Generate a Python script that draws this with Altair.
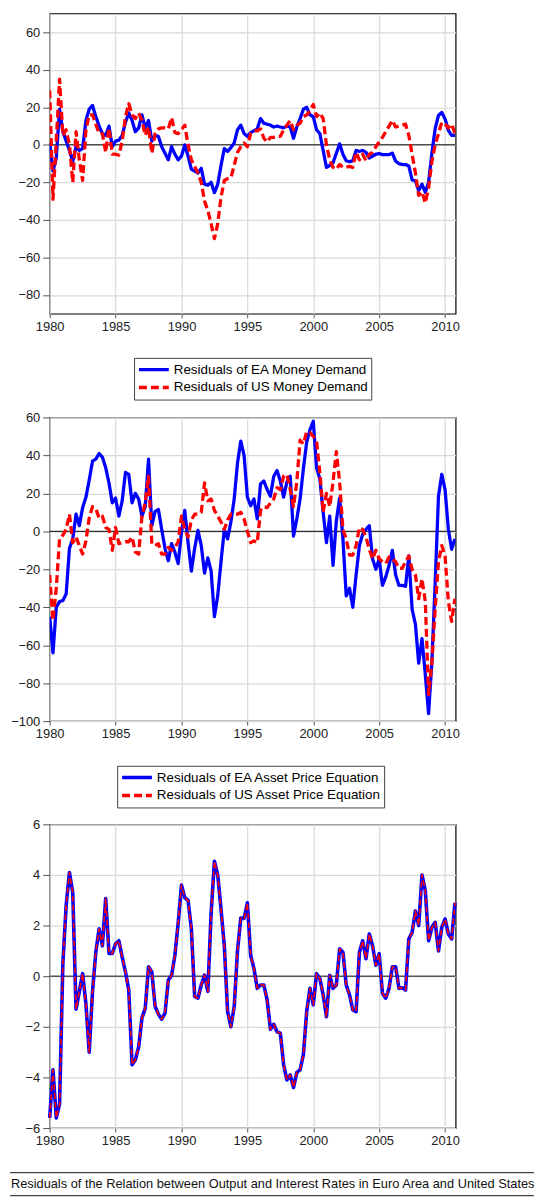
import altair as alt
import pandas as pd

# quarterly observations 1980Q1 .. 2010Q4
dates = [1980 + q / 4 for q in range(124)]
year_ticks = [1980, 1985, 1990, 1995, 2000, 2005, 2010]

ea_money_name = "Residuals of EA Money Demand"
us_money_name = "Residuals of US Money Demand"
ea_asset_name = "Residuals of EA Asset Price Equation"
us_asset_name = "Residuals of US Asset Price Equation"
output_name = "Residuals of the Relation between Output and Interest Rates in Euro Area and United States"

ea_money = [
    1, -14, -7, 19, 7, 2, -3, -9,
    -1, -3, -2, 13, 19, 21, 15, 10,
    6, 5, 10, -1, 2, 2.5, 5, 12,
    17, 13, 7, 9, 16, 9, 13, 2,
    5, 4.5, -1, -4.5, -8, -1, -5, -8,
    -6, 0, -6, -13, -14, -15, -12.5, -21,
    -21.5, -20, -25.5, -21, -11, -2, -3.5, -1.5,
    1, 8, 10.5, 6, 4.5, 6.5, 7.5, 8.5,
    14, 11.5, 11, 10.5, 9.5, 10, 9.5, 9,
    10, 9.5, 3.5, 9.5, 14, 19, 20, 16,
    15, 8, 6, -3, -12, -11, -9.5, -4.5,
    0.5, -5, -8.5, -9, -8.5, -3, -3.5, -3,
    -4, -7, -6, -5, -4.7, -5.2, -5.2, -5.2,
    -4.4, -8.7, -10, -10.5, -10.5, -11.3, -18.7, -19.2,
    -24.4, -21, -25.3, -20, -4.4, 8.7, 15.7, 17.3,
    13.8, 7.7, 5, 5,
]
us_money = [
    29, -29, 2, 35, 5, 8, 0, -20,
    7, -8, -19, 8, 16, 16, 11, 6,
    6, -4, 9, -5, -5, -5.5, 2, 15,
    22, 16, 14, 17, 13, 5, 9.5, -4.5,
    6, 8.5, 9, 9, 8.5, 14.5, 6.5, 6,
    8, 10.5, 0, -8, -11.5, -15, -20, -30,
    -35, -42, -50, -42, -28, -19, -18, -17.5,
    -11, -4, -1, 1, -1, 6, 7.5, 7.5,
    8.5, 3.5, 1.5, 4, 4, 4.5, 4.5, 8,
    10.5, 13, 8, 10.5, 11.5, 15, 16, 18,
    21.5, 15, 17, 14, 0, -8, -12, -13,
    -10.5, -12, -12, -11.5, -12, -4, -8, -5,
    -8.5, -5, -4, -1, 1.5, 4, 7, 10,
    13, 9.5, 10, 10.5, 11, 5, -5, -15,
    -27, -25, -31, -23, -9, 0, 6, 12,
    11, 9, 11, 6,
]
ea_asset = [
    -45, -64, -40, -37, -36.5, -33, -9, -4,
    9, 3, 12.5, 18, 27, 37, 38, 41,
    39, 33.5, 25.5, 15, 17.5, 8, 16, 31,
    30, 15, 20, 17, 8, 13, 38, 3,
    10.5, 11.5, 1, -9, -15.5, -6.5, -11, -17,
    -0.5, 11, -6, -21, -9, 0.5, -7.5, -22,
    -14, -21, -45, -34, -16, 1, -4, 5,
    17, 36, 47.5, 40, 18, 13.5, 17, 6.5,
    25, 26.5, 22, 18.5, 29, 32, 26.5, 18,
    26, 29, -2.5, 6.5, 17, 33, 47, 53.5,
    58, 33.5, 27.5, 10, -6, 8, -18, 5.5,
    17.5, -4, -34, -30, -40, -23, -7.5, -1.5,
    1, 3, -14.5, -20, -14.5, -28.5, -24, -18,
    -10, -23, -28.5, -28.5, -29, -13, -41, -49,
    -69.5, -56.5, -75.5, -96, -68.5, -27, 18.5, 30,
    22, 1, -9.5, -4,
]
us_asset = [
    -23, -47, -30, -4, -2, 1, 9, -6,
    -3, -7.5, -12, -5, 7, 13, 12, 7,
    8, 2, 1, -10, 2, -6.5, -6, -5.5,
    -5.5, -3, -11, -12, 8, 15, 29, -6.5,
    -7.5, -6.5, -12, -12, -8.5, -10, -8.5, -5.5,
    8, 1, -3, 6, 9, 9, 10, 25.5,
    16, 17, 11, 8, 5, 1, 6, 9,
    9, 9, 10, 6.5, 0, -6, -5, -6,
    11, 13, 12.5, 15, 17, 23, 22, 29,
    30, 22, 13, 26, 48, 46, 52.5, 52,
    50, 47.5, 31, 10, 20, 13, 26, 42,
    26, 1, -4, -12.5, -12.5, -7.5, 2, 1,
    -3, -9.5, -14.5, -10, -14.5, -16, -17, -13.5,
    -14.5, -16, -19.5, -19.5, -16, -13, -20, -23,
    -35.5, -25, -37, -86, -69, -41, -16, -7.5,
    -13, -37, -47.5, -35.5,
]
output_rates = [
    -5.6, -3.7, -5.6, -5.05, 0.5, 2.8, 4.1, 3.3,
    -1.3, -0.6, 0.1, -1.1, -3.0, -0.6, 0.95, 1.87,
    1.2, 3.07, 0.9, 0.9, 1.28, 1.4, 0.75, 0.17,
    -0.55, -3.5, -3.3, -2.8, -1.65, -1.27, 0.37, 0.17,
    -1.2, -1.5, -1.7, -1.46, -0.16, 0.04, 0.82, 2.1,
    3.6, 3.1, 3.0, 1.87, -0.8, -0.87, -0.35, 0.04,
    -0.6, 2.5, 4.54, 4.0, 2.65, 1.2, -1.4, -2.0,
    -1.2, 1.0, 2.3, 2.28, 2.9, 0.82, 0.3, -0.48,
    -0.35, -0.35, -0.94, -2.1, -1.9, -2.2, -2.25, -3.5,
    -4.1, -3.9, -4.4, -3.8, -3.7, -3.1, -1.4, -0.48,
    -1.13, 0.1, -0.1, -0.74, -1.6, 0.04, -0.48, -0.35,
    1.08, 0.95, -0.35, -0.74, -1.33, -1.4, 0.95, 1.4,
    0.69, 1.67, 1.2, 0.43, 0.89, -0.68, -0.87, -0.48,
    0.37, 0.37, -0.48, -0.46, -0.55, 1.47, 1.73, 2.58,
    2.0, 4.0, 3.37, 1.4, 1.93, 2.13, 1.0, 1.93,
    2.26, 1.67, 1.47, 2.9,
]

FONT = "Liberation Sans"
W = 409


def long_frame(names, series):
    rows = []
    for name, values in zip(names, series):
        for d, v in zip(dates, values):
            rows.append({"date": d, "value": v, "series": name})
    return pd.DataFrame(rows)


def x_enc():
    return alt.X("date:Q", scale=alt.Scale(domain=[1980, 2010.8], nice=False, zero=False),
                 axis=alt.Axis(values=year_ticks, format="d", title=None, tickSize=4,
                               labelPadding=3, labelFlush=False, labelOverlap=False))


def y_enc(domain, ticks):
    return alt.Y("value:Q", scale=alt.Scale(domain=domain, nice=False, zero=False),
                 axis=alt.Axis(values=ticks, title=None, tickSize=7, labelPadding=3,
                               labelFlush=False, labelOverlap=False))


def two_line_panel(names, series, domain, ticks, height, leg_x, leg_y):
    df = long_frame(names, series)
    legend = alt.Legend(orient="none", legendX=leg_x, legendY=leg_y, title=None,
                        direction="vertical", symbolType="stroke", symbolSize=900,
                        symbolStrokeWidth=3.5, clipHeight=17.7, rowPadding=0,
                        padding=3, strokeColor="#444444", fillColor="white",
                        labelFont=FONT, labelFontSize=13.5, labelColor="black",
                        labelOffset=3, labelLimit=400)
    zero = alt.Chart(pd.DataFrame({"value": [0]})).mark_rule(
        color="black", strokeWidth=1).encode(y=y_enc(domain, ticks))
    lines = alt.Chart(df).mark_line(strokeWidth=3.3, strokeJoin="round", clip=True).encode(
        x=x_enc(),
        y=y_enc(domain, ticks),
        color=alt.Color("series:N", scale=alt.Scale(domain=names, range=["#0000ff", "#ff0000"]),
                        legend=legend),
        strokeDash=alt.StrokeDash("series:N", scale=alt.Scale(domain=names, range=[[1, 0], [8, 4]]),
                                  legend=legend),
        order=alt.Order("series:N"),
    )
    return alt.layer(zero, lines).properties(width=W, height=height)


panel1 = two_line_panel([ea_money_name, us_money_name], [ea_money, us_money],
                        [-90, 70], list(range(-80, 61, 20)), 302.5, 85, 347)
panel2 = two_line_panel([ea_asset_name, us_asset_name], [ea_asset, us_asset],
                        [-100, 60], list(range(-100, 61, 20)), 306, 68, 351)

# third panel: one relation, drawn blue with a red dashed copy on top
df3 = pd.DataFrame({"date": dates, "value": output_rates})
dom3, ticks3 = [-6, 6], [-6, -4, -2, 0, 2, 4, 6]
zero3 = alt.Chart(pd.DataFrame({"value": [0]})).mark_rule(
    color="#555555", strokeWidth=1.5).encode(y=y_enc(dom3, ticks3))
blue3 = alt.Chart(df3).mark_line(color="#0000ff", strokeWidth=3.6, strokeJoin="round").encode(
    x=x_enc(), y=y_enc(dom3, ticks3))
red3 = alt.Chart(df3).mark_line(color="#ff0000", strokeWidth=1.6, strokeDash=[6, 3],
                                strokeJoin="round").encode(x=x_enc(), y=y_enc(dom3, ticks3))
caption = alt.Chart(pd.DataFrame({"label": [output_name]})).mark_text(
    font=FONT, fontSize=12.9, color="#111111", align="center", baseline="middle").encode(
    text="label:N", x=alt.value(224.7), y=alt.value(362.7))
box_top = alt.Chart(pd.DataFrame({"k": [0]})).mark_rule(color="#444444", strokeWidth=1.3).encode(
    x=alt.value(-40), x2=alt.value(488), y=alt.value(351))
box_bottom = alt.Chart(pd.DataFrame({"k": [0]})).mark_rule(color="#444444", strokeWidth=1.3).encode(
    x=alt.value(-40), x2=alt.value(488), y=alt.value(374))
panel3 = alt.layer(zero3, blue3, red3, caption, box_top, box_bottom).properties(width=W, height=306)

chart = alt.vconcat(panel1, panel2, panel3, spacing=104, bounds="flush").resolve_scale(
    color="independent", strokeDash="independent"
).resolve_legend(
    color="independent", strokeDash="independent"
).properties(
    padding={"left": 0, "top": 0, "right": 0, "bottom": 0}
).configure_view(
    stroke="black", strokeWidth=1.2
).configure_axis(
    labelFont=FONT, labelFontSize=13, labelColor="#222222", tickColor="#555555",
    domain=False, grid=True, gridColor="#d9d9d9", gridWidth=1.2
)

chart.save("out.html", embed_options={"renderer": "svg", "actions": False})
